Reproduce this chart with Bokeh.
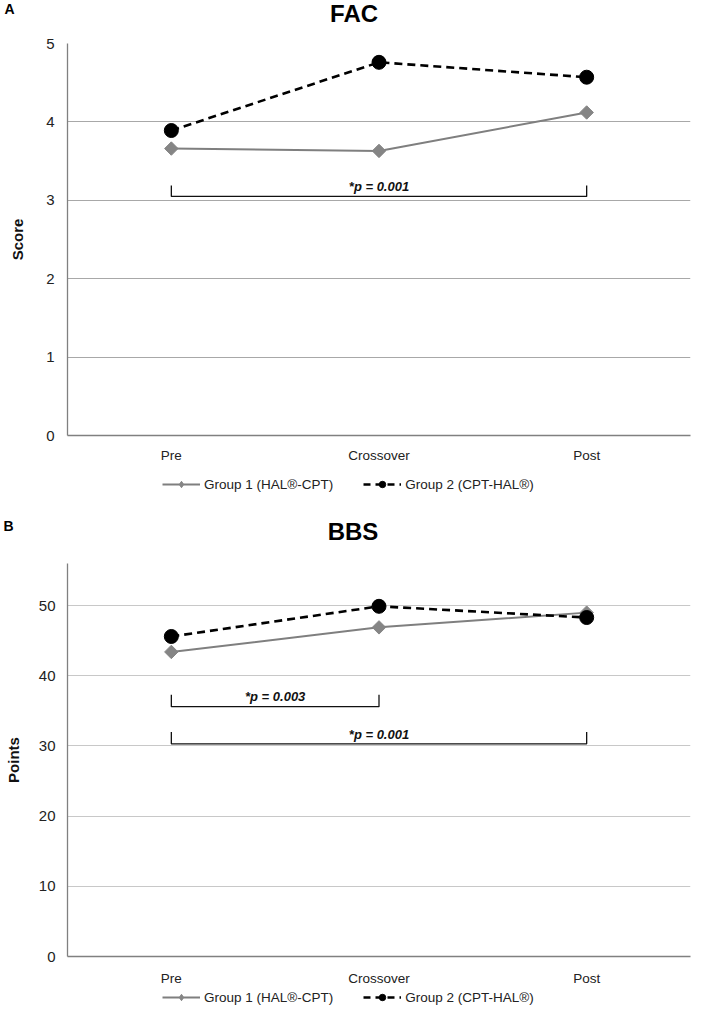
from bokeh.plotting import figure
from bokeh.models import Range1d, FactorRange, Label, Legend, LegendItem, FixedTicker
from bokeh.layouts import column
from bokeh.embed import file_html
from bokeh.resources import INLINE
from bokeh.core.properties import value
import math

# ---------------- data ----------------
phases = ["Pre", "Crossover", "Post"]
group_labels = ["Group 1 (HAL®-CPT)", "Group 2 (CPT-HAL®)"]

fac_group1 = [3.66, 3.63, 4.12]
fac_group2 = [3.89, 4.76, 4.57]
fac_ticks = [0, 1, 2, 3, 4, 5]

bbs_group1 = [43.4, 46.9, 49.0]
bbs_group2 = [45.6, 49.9, 48.3]
bbs_ticks = [0, 10, 20, 30, 40, 50]

fac_br_start = ["Pre"]
fac_br_end = ["Post"]
fac_br_low = [3.05]
fac_br_high = [3.19]
fac_br_text = ["*p = 0.001"]
fac_br_text_y = [3.17]

bbs_br_start = ["Pre", "Pre"]
bbs_br_end = ["Crossover", "Post"]
bbs_br_low = [35.6, 30.3]
bbs_br_high = [37.3, 32.0]
bbs_br_text = ["*p = 0.003", "*p = 0.001"]
bbs_br_text_y = [37.0, 31.6]

FONT_NAME = "Liberation Sans"
FONT = value(FONT_NAME)
W = 692
LEFT = 66   # shared left border (frames are aligned in the column)
RIGHT = 2

G1_STYLE = dict(line_color="#7f7f7f", line_width=2)
G1_MARK = dict(marker="square", angle=math.pi / 4, size=9.5,
               fill_color="#858585", line_color="#858585")
G2_STYLE = dict(line_color="black", line_width=2.6, line_dash="8 5")
G2_MARK = dict(marker="circle", size=14, fill_color="black", line_color="black")


def base(height, x_range, y_range, y_axis_location):
    p = figure(width=W, height=height, x_range=x_range, y_range=y_range,
               output_backend="svg", toolbar_location=None,
               min_border_left=LEFT, min_border_right=RIGHT,
               min_border_top=0, min_border_bottom=0,
               x_axis_location=None, y_axis_location=y_axis_location)
    p.xgrid.visible = False
    p.ygrid.visible = False
    p.outline_line_color = None
    p.background_fill_color = "white"
    p.border_fill_color = "white"
    return p


def header(height, letter, title, letter_y, letter_standoff, title_x, title_y):
    p = base(height, Range1d(LEFT, W - RIGHT), Range1d(0, height), "left")
    tick = height - letter_y
    ax = p.yaxis[0]
    ax.ticker = FixedTicker(ticks=[tick])
    ax.major_label_overrides = {tick: letter}
    ax.axis_line_color = None
    ax.major_tick_line_color = None
    ax.minor_tick_line_color = None
    ax.major_tick_out = 0
    ax.major_tick_in = 0
    ax.major_label_standoff = letter_standoff
    ax.major_label_text_font = FONT_NAME
    ax.major_label_text_font_style = "bold"
    ax.major_label_text_font_size = "14px"
    ax.major_label_text_color = "black"
    p.add_layout(Label(x=title_x, y=height - title_y, text=title,
                       text_font=FONT_NAME, text_font_style="bold", text_font_size="24px",
                       text_align="center", text_baseline="middle", text_color="black"))
    return p


def footer(height, g1, g2, leg_x, leg_y):
    # legend strip: the series are drawn again far outside the visible y window,
    # only so that the legend has renderers to describe
    p = base(height, FactorRange(*phases), Range1d(1000, 1001), None)
    l1 = p.line(phases, g1, line_color="#7f7f7f", line_width=2)
    s1 = p.scatter(phases, g1, marker="diamond", size=10,
                   fill_color="#858585", line_color="#858585")
    l2 = p.line(phases, g2, line_color="black", line_width=2.6, line_dash="7 5")
    s2 = p.scatter(phases, g2, marker="circle", size=9, fill_color="black",
                   line_color="black")
    legend = Legend(items=[LegendItem(label=group_labels[0], renderers=[l1, s1]),
                           LegendItem(label=group_labels[1], renderers=[l2, s2])],
                    orientation="horizontal", location=(leg_x, leg_y),
                    border_line_color=None, background_fill_alpha=0,
                    label_text_font=FONT_NAME, label_text_font_size="13.5px",
                    label_text_color="#222222",
                    glyph_width=38, glyph_height=16, label_height=16,
                    label_standoff=4, spacing=30, padding=0, margin=0)
    p.add_layout(legend)
    return p


def chart(ylabel, g1, g2, yend, ticks, br_s, br_e, br_lo, br_hi, br_txt, br_ty,
          height, b_top, b_bottom, grid_color, xstand, ystand, lstand):
    p = figure(width=W, height=height, x_range=FactorRange(*phases),
               y_range=Range1d(0, yend), output_backend="svg", toolbar_location=None,
               min_border_left=LEFT, min_border_right=RIGHT,
               min_border_top=b_top, min_border_bottom=b_bottom)
    p.outline_line_color = None
    p.background_fill_color = "white"
    p.border_fill_color = "white"

    p.xgrid.grid_line_color = None
    p.ygrid.grid_line_color = grid_color
    p.ygrid.grid_line_width = 1
    p.yaxis.ticker = FixedTicker(ticks=ticks)

    for ax in (p.xaxis[0], p.yaxis[0]):
        ax.axis_line_color = "#808080"
        ax.axis_line_width = 1.3
        ax.major_tick_line_color = None
        ax.minor_tick_line_color = None
        ax.major_tick_out = 0
        ax.major_tick_in = 0
        ax.minor_tick_out = 0
        ax.major_label_text_font = FONT_NAME
        ax.major_label_text_color = "#222222"
    p.xaxis.major_label_text_font_size = "13.5px"
    p.xaxis.major_label_standoff = xstand
    p.yaxis.major_label_text_font_size = "15px"
    p.yaxis.major_label_standoff = ystand
    p.yaxis.axis_label = ylabel
    p.yaxis.axis_label_text_font = FONT_NAME
    p.yaxis.axis_label_text_font_style = "bold"
    p.yaxis.axis_label_text_font_size = "15px"
    p.yaxis.axis_label_text_color = "#111111"
    p.yaxis.axis_label_standoff = lstand

    # series
    p.line(phases, g1, **G1_STYLE)
    p.scatter(phases, g1, **G1_MARK)
    p.line(phases, g2, **G2_STYLE)
    p.scatter(phases, g2, **G2_MARK)

    # significance brackets
    for s, e, lo, hi in zip(br_s, br_e, br_lo, br_hi):
        p.line([s, s, e, e], [hi, lo, lo, hi], line_color="#111111", line_width=1.3)
    mids = [(phases.index(s) + phases.index(e)) / 2 + 0.5 for s, e in zip(br_s, br_e)]
    p.text(x=mids, y=br_ty, text=br_txt, text_font=FONT, text_font_style="bold italic",
           text_font_size="13px", text_align="center", text_baseline="middle",
           text_color="#111111")
    return p


hA = header(34, "A", "FAC", letter_y=8, letter_standoff=53, title_x=353, title_y=13)
pA = chart("Score", fac_group1, fac_group2, 5, fac_ticks,
           fac_br_start, fac_br_end, fac_br_low, fac_br_high, fac_br_text, fac_br_text_y,
           height=437, b_top=9, b_bottom=36,
           grid_color="#a8a8a8", xstand=12, ystand=13, lstand=17)
fA = footer(34, fac_group1, fac_group2, 95, 13)

hB = header(50, "B", "BBS", letter_y=20, letter_standoff=54, title_x=352, title_y=26)
pB = chart("Points", bbs_group1, bbs_group2, 56, bbs_ticks,
           bbs_br_start, bbs_br_end, bbs_br_low, bbs_br_high, bbs_br_text, bbs_br_text_y,
           height=434, b_top=8, b_bottom=33,
           grid_color="#c8c8c8", xstand=14, ystand=12, lstand=14)
fB = footer(16, bbs_group1, bbs_group2, 95, 0)

layout = column(hA, pA, fA, hB, pB, fB, spacing=0)
open("out.html", "w").write(file_html(layout, INLINE))
